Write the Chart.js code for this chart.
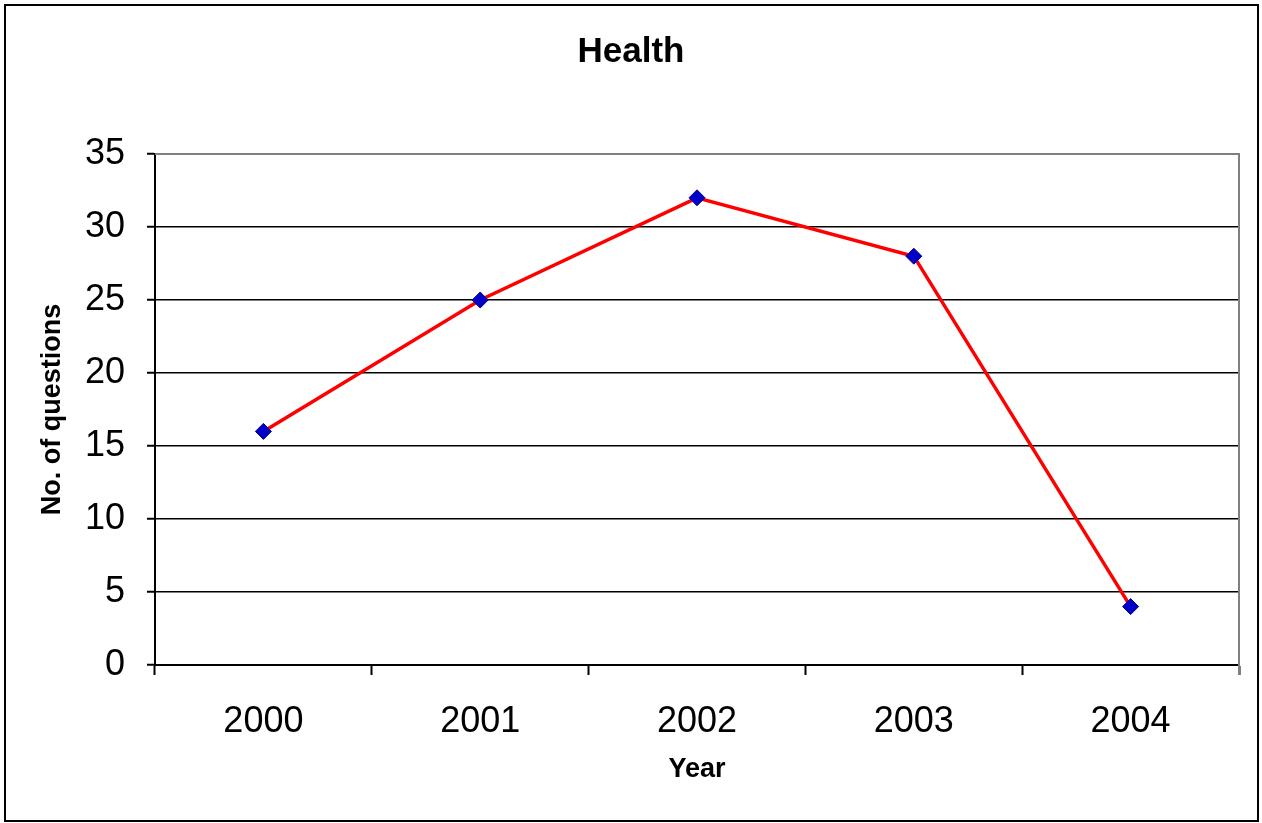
<!DOCTYPE html>
<html>
<head>
<meta charset="utf-8">
<script src="https://cdn.jsdelivr.net/npm/chart.js@4"></script>
<style>
  html, body { margin: 0; padding: 0; background: #fff; }
  canvas { display: block; }
</style>
</head>
<body>
<canvas id="c" width="1262" height="823"></canvas>
<script>
const years = ['2000', '2001', '2002', '2003', '2004'];
const questions = [16, 25, 32, 28, 4];
const yTicks = [0, 5, 10, 15, 20, 25, 30, 35];

const frame = {
  id: 'frame',
  afterDraw(chart) {
    const ctx = chart.ctx, a = chart.chartArea;
    ctx.save();
    ctx.strokeStyle = '#000';
    ctx.lineWidth = 2;
    ctx.strokeRect(5, 5, 1253, 816);
    ctx.strokeStyle = '#808080';
    ctx.lineWidth = 2;
    ctx.beginPath();
    ctx.moveTo(a.left, a.top);
    ctx.lineTo(a.right, a.top);
    ctx.lineTo(a.right, a.bottom + 10);
    ctx.stroke();
    ctx.restore();
  }
};

new Chart(document.getElementById('c'), {
  type: 'line',
  data: {
    labels: years,
    datasets: [{
      data: questions,
      borderColor: '#ff0000',
      borderWidth: 3.5,
      tension: 0,
      pointStyle: 'rectRot',
      pointRadius: 8,
      pointHoverRadius: 8,
      pointBackgroundColor: '#0000c8',
      pointBorderColor: '#00008b',
      pointBorderWidth: 1
    }]
  },
  options: {
    responsive: false,
    animation: false,
    layout: { padding: { left: 0, right: 0, top: 0, bottom: 0 } },
    plugins: {
      legend: { display: false },
      tooltip: { enabled: false },
      title: {
        display: true,
        text: 'Health',
        color: '#000',
        font: { family: 'Liberation Sans, Arial, sans-serif', size: 35, weight: 'bold' },
        padding: { top: 31, bottom: 81 }
      }
    },
    scales: {
      x: {
        type: 'category',
        offset: true,
        grid: {
          offset: true,
          drawOnChartArea: false,
          drawTicks: true,
          tickLength: 10,
          tickColor: '#000',
          tickWidth: 2
        },
        border: { display: true, color: '#000', width: 2 },
        ticks: {
          color: '#000',
          font: { family: 'Liberation Sans, Arial, sans-serif', size: 36 },
          padding: 25,
          maxRotation: 0
        },
        title: {
          display: true,
          text: 'Year',
          color: '#000',
          font: { family: 'Liberation Sans, Arial, sans-serif', size: 27, weight: 'bold' },
          padding: { top: 0, bottom: 37 }
        },
        afterFit(scale) { scale.height = 823 - 665; }
      },
      y: {
        min: 0,
        max: 35,
        afterBuildTicks(scale) { scale.ticks = yTicks.map(v => ({ value: v })); },
        grid: {
          color: ctx => (ctx.tick && ctx.tick.value === 35) ? '#808080' : '#000',
          lineWidth: 1.5,
          drawTicks: true,
          tickLength: 8,
          tickColor: '#000',
          tickWidth: 2
        },
        border: { display: true, color: '#000', width: 2 },
        ticks: {
          color: '#000',
          font: { family: 'Liberation Sans, Arial, sans-serif', size: 36 },
          padding: 22
        },
        title: {
          display: true,
          text: 'No. of questions',
          color: '#000',
          font: { family: 'Liberation Sans, Arial, sans-serif', size: 27, weight: 'bold' },
          padding: { top: 36, bottom: 0 }
        },
        afterFit(scale) { scale.width = 155; }
      },
      spacer: {
        type: 'linear',
        position: 'right',
        display: true,
        min: 0,
        max: 1,
        grid: { display: false, drawTicks: false },
        border: { display: false },
        ticks: { display: false },
        afterFit(scale) { scale.width = 1262 - 1239; }
      }
    }
  },
  plugins: [frame]
});
</script>
</body>
</html>
